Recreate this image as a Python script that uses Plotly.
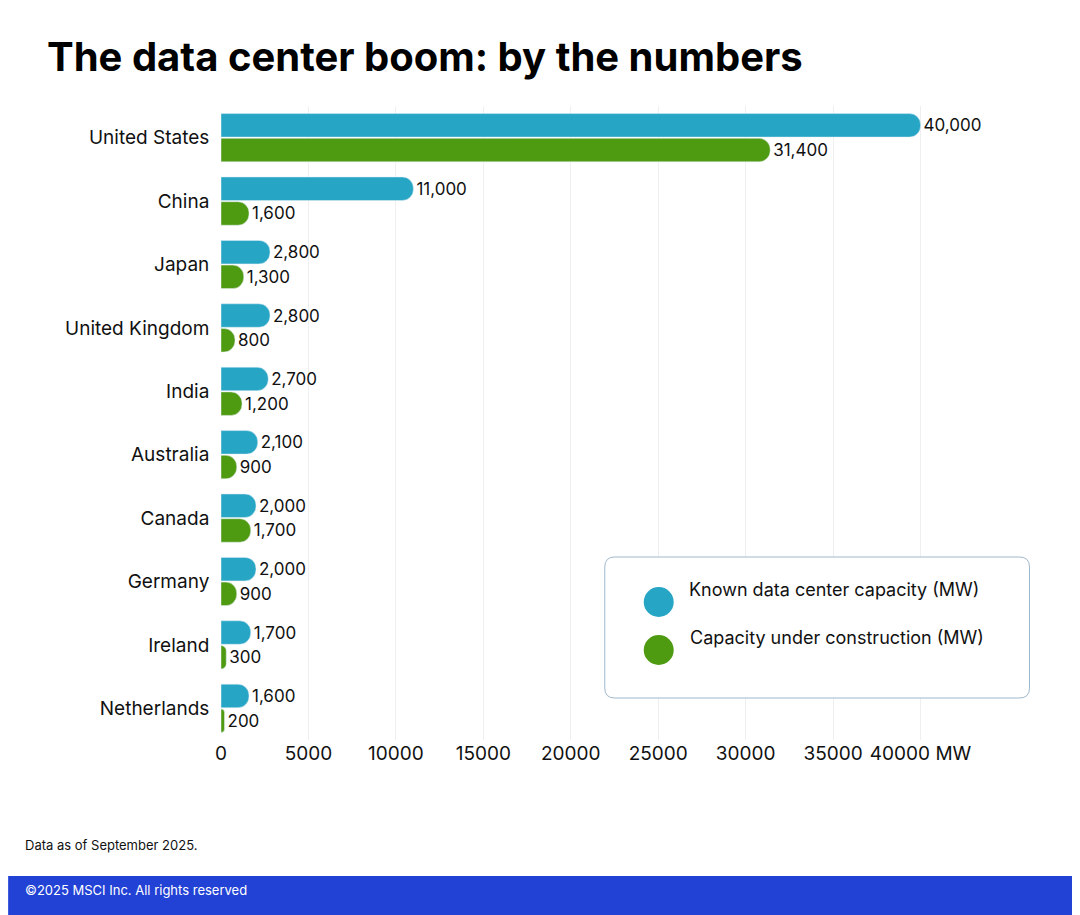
import plotly.graph_objects as go

countries = ["United States","China","Japan","United Kingdom","India","Australia","Canada","Germany","Ireland","Netherlands"]
known = [40000,11000,2800,2800,2700,2100,2000,2000,1700,1600]
constr = [31400,1600,1300,800,1200,900,1700,900,300,200]
BLUE = "#26A6C4"; GREEN = "#4E9A10"
H, W = 915, 1080
def py(p): return 1-(p-98)/(732-98)
def px(p): return (p-213)/(1000.5-213)

fig = go.Figure()
fig.add_bar(y=countries, x=known, orientation="h", marker=dict(color=BLUE, cornerradius=11),
            text=[f"{v:,}" for v in known], textposition="outside", showlegend=False)
fig.add_bar(y=countries, x=constr, orientation="h", marker=dict(color=GREEN, cornerradius=11),
            text=[f"{v:,}" for v in constr], textposition="outside", showlegend=False)
fig.update_traces(textfont=dict(size=17, color="#111", family="Inter"), cliponaxis=False)

fig.update_layout(
    width=W, height=H, barmode="group", bargap=0.22, bargroupgap=0.05,
    margin=dict(l=213, r=79.5, t=98, b=183), plot_bgcolor="white", paper_bgcolor="white",
    font=dict(family="Inter", color="#111"),
    xaxis=dict(range=[0,45000], tickvals=list(range(0,45000,5000)),
               ticktext=[str(v) for v in range(0,40000,5000)]+["40000 MW"],
               showgrid=True, gridcolor="#efefef", zeroline=False, tickfont=dict(size=19), ticklen=0),
    yaxis=dict(autorange="reversed", tickfont=dict(size=19), ticksuffix="  ", showgrid=False),
    shapes=[
        dict(type="path", xref="paper", yref="paper",
             path=f"M {px(607)} {py(549)} L {px(1012)} {py(549)} Q {px(1022)} {py(549)} {px(1022)} {py(559)} L {px(1022)} {py(680)} Q {px(1022)} {py(690)} {px(1012)} {py(690)} L {px(607)} {py(690)} Q {px(597)} {py(690)} {px(597)} {py(680)} L {px(597)} {py(559)} Q {px(597)} {py(549)} {px(607)} {py(549)} Z",
             line=dict(color="#9fb8cc", width=1), fillcolor="white", layer="above"),
        dict(type="rect", xref="paper", yref="paper", x0=px(0), x1=px(1080), y0=py(868), y1=py(915),
             fillcolor="#2242D6", line_width=0),
        dict(type="circle", xref="paper", yref="paper", x0=px(636), x1=px(666), y0=py(579), y1=py(609),
             fillcolor=BLUE, line_width=0, layer="above"),
        dict(type="circle", xref="paper", yref="paper", x0=px(636), x1=px(666), y0=py(627), y1=py(657),
             fillcolor=GREEN, line_width=0, layer="above"),
    ],
    annotations=[
        dict(text="<b>The data center boom: by the numbers</b>", xref="paper", yref="paper",
             x=px(37), y=py(48), xanchor="left", yanchor="middle", showarrow=False, font=dict(size=40, color="#000")),
        dict(text="Known data center capacity (MW)", xref="paper", yref="paper", x=px(679), y=py(594),
             xanchor="left", showarrow=False, font=dict(size=18)),
        dict(text="Capacity under construction (MW)", xref="paper", yref="paper", x=px(680), y=py(642),
             xanchor="left", showarrow=False, font=dict(size=18)),
        dict(text="Data as of September 2025.", xref="paper", yref="paper", x=px(15), y=py(847),
             xanchor="left", showarrow=False, font=dict(size=13)),
        dict(text="©2025 MSCI Inc. All rights reserved", xref="paper", yref="paper", x=px(15), y=py(892),
             xanchor="left", showarrow=False, font=dict(size=13, color="white")),
    ],
)
fig.write_html("out.html")
